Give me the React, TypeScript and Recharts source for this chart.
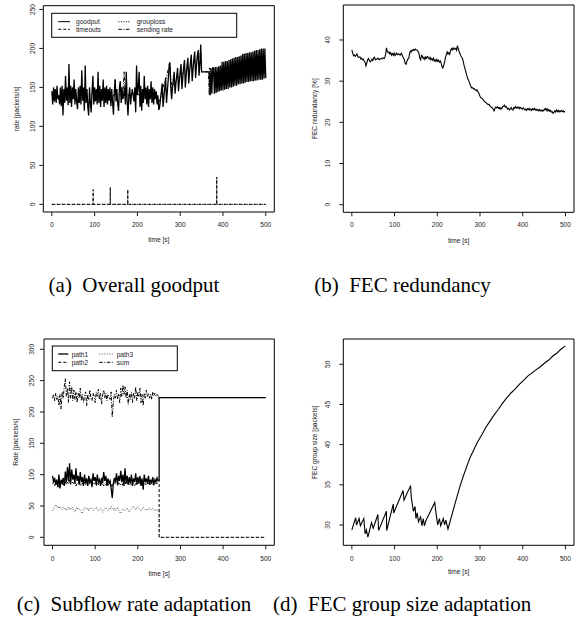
import { Line, LineChart, ReferenceArea, XAxis, YAxis } from 'recharts'

const FONT = '"Liberation Sans", Arial, Helvetica, sans-serif'
const SERIF = '"Liberation Serif", "Times New Roman", serif'
const INK = '#1a1a1a'
const SMALL = 6.6

const TIME_TICKS = [0, 100, 200, 300, 400, 500]
const TIME_DOMAIN: [number, number] = [-20, 520]

// (a) overall goodput, one sample every 2 s
const GOODPUT_STEP = 2
const goodput = [
  145, 128, 150, 132, 148, 130, 152, 135, 140, 128,
  150, 126, 152, 114, 148, 130, 165, 133, 150, 127,
  180, 130, 152, 125, 150, 135, 160, 128, 148, 132,
  122, 150, 130, 152, 128, 172, 133, 150, 120, 178,
  130, 148, 125, 114, 150, 130, 118, 145, 165, 128,
  150, 132, 148, 128, 170, 130, 152, 125, 148, 133,
  160, 125, 150, 130, 152, 128, 148, 133, 150, 126,
  148, 130, 115, 145, 160, 132, 148, 128, 120, 150,
  158, 130, 150, 135, 140, 150, 128, 170, 133, 114,
  140, 150, 128, 140, 148, 140, 132, 150, 118, 178,
  140, 150, 170, 125, 152, 120, 148, 130, 165, 135,
  150, 128, 152, 125, 148, 135, 158, 130, 150, 128,
  148, 135, 145, 128, 140, 121, 125, 135, 145, 155,
  125, 138, 150, 162, 130, 145, 160, 175, 182, 150,
  135, 150, 160, 170, 142, 155, 165, 175, 145, 158,
  170, 180, 148, 162, 175, 185, 150, 165, 178, 188,
  155, 170, 182, 192, 158, 173, 186, 196, 162, 178,
  190, 198, 165, 180, 205, 170, 170, 170, 170, 170,
  170, 170, 170, 170, 170, 140, 175, 142, 175, 175,
  142, 176, 143, 176, 144, 177, 145, 178, 146, 183,
  146, 183, 147, 184, 148, 184, 148, 185, 150, 186,
  150, 187, 151, 188, 152, 189, 152, 189, 154, 190,
  154, 191, 155, 193, 155, 193, 156, 194, 157, 194,
  157, 195, 158, 195, 158, 196, 158, 197, 159, 198,
  159, 198, 160, 199, 160, 200, 160, 200, 161, 200,
  162,
]

const timeouts: [number, number][] = [
  [0, 0], [96.5, 0], [96.5, 19], [96.5, 0], [136.5, 0], [136.5, 22], [136.5, 0],
  [177.5, 0], [177.5, 19], [177.5, 0], [385.5, 0], [385.5, 35], [385.5, 0], [500, 0],
]

const grouploss: [number, number][] = [[0, 0], [500, 0]]

const sendingRate: [number, number][] = [
  [0, 140], [10, 142], [20, 138], [30, 143], [40, 141], [50, 139], [60, 142], [70, 140],
  [80, 138], [90, 141], [100, 143], [110, 140], [120, 139], [130, 141], [140, 138], [146, 140],
  [148, 160], [150, 140], [160, 141], [166, 142], [169, 170], [172, 141], [180, 140], [190, 142],
  [200, 141], [210, 140], [220, 142], [230, 140], [240, 139], [250, 128], [260, 150], [270, 168],
  [275, 182], [280, 150], [290, 160], [300, 165], [320, 175], [340, 185], [348, 195], [350, 170],
  [366, 170], [368, 140], [368.5, 175], [380, 160], [400, 165], [420, 170], [440, 175], [460, 178],
  [480, 180], [500, 182],
]

// (b) FEC redundancy [%]
const redundancy: [number, number][] = [
  [0, 37.6], [2, 36.8], [4, 36.2], [6, 36.4], [8, 36.0], [10, 36.3], [12, 36.6], [14, 36.0],
  [16, 35.8], [19, 35.9], [21, 35.4], [23, 35.6], [25, 35.2], [27, 35.3], [29, 34.8], [31, 34.6],
  [33, 33.7], [35, 34.4], [37, 35.2], [39, 35.5], [41, 35.0], [43, 34.7], [45, 34.9], [47, 35.3],
  [49, 35.0], [51, 35.6], [53, 35.8], [55, 35.2], [58, 35.3], [61, 35.6], [64, 35.2], [67, 35.5],
  [70, 35.4], [73, 35.7], [76, 35.5], [78, 36.0], [80, 37.2], [81, 38.1], [83, 37.2], [85, 36.9],
  [87, 37.1], [89, 36.6], [91, 36.9], [93, 36.3], [95, 36.7], [97, 36.3], [99, 36.8], [101, 36.2],
  [103, 36.5], [105, 36.8], [107, 36.4], [110, 36.6], [113, 36.3], [116, 36.8], [119, 36.0], [121, 35.6],
  [123, 35.2], [125, 34.3], [127, 34.1], [129, 34.8], [131, 35.4], [133, 35.5], [135, 36.6], [137, 37.3],
  [139, 37.1], [141, 37.6], [143, 37.4], [145, 37.7], [147, 37.5], [149, 37.8], [151, 37.6], [153, 37.5],
  [155, 37.2], [157, 36.8], [159, 35.6], [161, 35.2], [163, 36.3], [165, 36.1], [167, 35.5], [169, 35.8],
  [171, 35.3], [173, 35.9], [175, 35.6], [177, 36.0], [179, 35.7], [181, 35.4], [183, 35.8], [185, 35.2],
  [187, 35.5], [189, 35.1], [191, 35.6], [193, 34.9], [195, 35.2], [197, 34.8], [199, 35.3], [201, 34.8],
  [203, 35.1], [205, 34.6], [207, 34.9], [209, 34.4], [211, 33.5], [213, 33.2], [215, 33.8], [217, 34.6],
  [219, 35.8], [221, 36.4], [223, 37.1], [225, 36.6], [227, 36.9], [229, 36.5], [231, 37.4], [233, 37.9],
  [235, 37.6], [237, 38.1], [239, 37.7], [241, 37.9], [243, 38.0], [245, 37.5], [247, 38.6], [249, 37.9],
  [251, 37.2], [253, 36.7], [255, 36.2], [257, 35.8], [259, 35.5], [261, 34.6], [263, 33.7], [265, 33.0],
  [267, 32.2], [269, 31.4], [271, 30.7], [273, 30.3], [275, 29.7], [277, 29.1], [279, 28.6], [281, 28.3],
  [283, 28.4], [285, 28.1], [287, 28.2], [289, 27.9], [291, 27.7], [293, 27.9], [295, 27.4], [297, 27.2],
  [299, 26.6], [301, 26.1], [303, 25.9], [305, 25.8], [307, 25.5], [309, 25.3], [311, 25.0], [313, 24.9],
  [315, 24.7], [317, 24.5], [319, 24.3], [321, 24.4], [323, 24.0], [325, 23.8], [327, 23.6], [329, 23.5],
  [331, 23.2], [333, 22.8], [335, 23.4], [337, 23.7], [339, 23.5], [341, 23.8], [343, 23.4], [345, 23.6],
  [347, 23.2], [349, 23.5], [351, 23.3], [353, 23.8], [355, 23.9], [357, 24.2], [359, 23.7], [361, 23.9],
  [363, 23.5], [365, 23.2], [367, 23.4], [369, 23.0], [371, 23.3], [373, 23.6], [375, 23.1], [377, 23.0],
  [379, 23.6], [381, 23.4], [383, 23.8], [385, 23.5], [387, 23.7], [389, 23.4], [391, 23.7], [393, 23.3],
  [395, 23.6], [397, 23.4], [399, 23.2], [401, 23.5], [403, 23.3], [405, 23.0], [407, 23.2], [409, 22.9],
  [411, 23.3], [413, 23.1], [415, 23.4], [417, 23.0], [419, 23.2], [421, 22.9], [423, 23.3], [425, 23.1],
  [427, 23.4], [429, 23.0], [431, 23.2], [433, 22.9], [435, 23.1], [437, 22.8], [439, 23.1], [441, 22.8],
  [443, 23.0], [445, 22.7], [447, 23.0], [449, 22.8], [451, 23.2], [453, 23.4], [455, 22.9], [457, 23.3],
  [459, 22.8], [461, 23.1], [463, 22.7], [465, 22.9], [467, 22.5], [469, 22.6], [471, 22.2], [473, 22.4],
  [475, 22.8], [477, 22.5], [479, 23.0], [481, 22.6], [483, 22.9], [485, 22.5], [487, 22.8], [489, 22.6],
  [491, 22.9], [493, 22.6], [495, 22.8], [497, 22.5], [499, 22.7],
]

// (c) subflow rates, one sample every 2.5 s up to 247.5 s, then the tail
const PATH_STEP = 2.5
const path1 = [
  98, 88, 95, 84, 92, 80, 100, 78, 92, 86,
  95, 82, 105, 88, 112, 90, 118, 85, 108, 92,
  100, 86, 110, 90, 98, 84, 104, 88, 96, 82,
  100, 86, 94, 82, 98, 88, 92, 80, 102, 90,
  96, 84, 100, 88, 92, 82, 95, 86, 104, 90,
  98, 82, 94, 86, 90, 78, 63, 85, 95, 88,
  102, 84, 98, 90, 106, 88, 100, 82, 110, 86,
  98, 84, 96, 86, 100, 82, 94, 88, 102, 84,
  96, 86, 98, 82, 94, 76, 100, 88, 94, 86,
  98, 84, 92, 86, 96, 84, 92, 88, 95, 90,
]
const path2 = [
  85, 88, 82, 90, 84, 86, 80, 88, 84, 87,
  82, 86, 90, 84, 88, 85, 92, 84, 86, 88,
  84, 88, 82, 86, 85, 90, 84, 82, 87, 85,
  88, 84, 86, 82, 85, 88, 84, 86, 83, 87,
  85, 82, 88, 84, 86, 83, 87, 85, 82, 86,
  84, 87, 83, 86, 85, 84, 80, 86, 84, 88,
  86, 83, 88, 85, 84, 87, 83, 86, 88, 84,
  85, 88, 84, 86, 83, 87, 85, 82, 86, 84,
  87, 84, 86, 83, 88, 85, 84, 86, 83, 87,
  85, 86, 84, 88, 85, 83, 86, 85, 87, 86,
]
const path3 = [
  42, 45, 50, 52, 48, 50, 46, 49, 47, 44,
  48, 45, 47, 43, 46, 49, 44, 47, 45, 48,
  42, 40, 45, 48, 44, 46, 43, 40, 38, 45,
  48, 46, 44, 47, 42, 45, 48, 46, 43, 44,
  46, 48, 44, 42, 45, 47, 44, 40, 43, 46,
  48, 45, 43, 46, 44, 50, 46, 44, 47, 42,
  45, 48, 44, 40, 38, 43, 46, 44, 42, 45,
  47, 44, 40, 43, 45, 48, 50, 46, 44, 47,
  49, 46, 44, 42, 45, 48, 46, 44, 43, 46,
  44, 47, 45, 43, 46, 44, 42, 45, 43, 45,
]
const pathSum = [
  222, 228, 218, 230, 220, 225, 210, 228, 205, 232,
  222, 240, 253, 225, 238, 215, 248, 222, 240, 218,
  235, 220, 232, 215, 230, 222, 238, 218, 228, 215,
  225, 232, 210, 228, 220, 235, 222, 218, 230, 225,
  215, 232, 225, 236, 220, 230, 212, 228, 235, 222,
  230, 218, 228, 225, 220, 232, 192, 215, 228, 222,
  235, 220, 228, 215, 238, 225, 243, 228, 240, 222,
  235, 212, 228, 220, 232, 215, 230, 222, 240, 218,
  232, 225, 238, 215, 228, 210, 230, 222, 235, 225,
  230, 222, 228, 220, 232, 226, 230, 225, 228, 226,
]
const path1Tail: [number, number][] = [[250, 90], [250, 223], [500, 223]]
const path2Tail: [number, number][] = [[250, 86], [250, 0], [500, 0]]
const path3Tail: [number, number][] = [[250, 44], [250, 0], [500, 0]]
const sumTail: [number, number][] = [[250, 223], [500, 223]]

// (d) FEC group size [packets]
const groupSize: [number, number][] = [
  [0, 29.4], [9, 30.9], [11, 30.0], [17, 30.8], [20, 29.9], [28, 30.8], [31, 28.9], [34, 29.4],
  [37.5, 28.5], [46, 30.3], [50, 29.6], [61, 31.3], [62.5, 29.3], [81, 31.7], [81.5, 29.3], [97, 32.6],
  [98, 31.5], [120, 34.3], [122, 33.1], [137.5, 34.9], [139, 33.5], [144, 31.7], [148, 32.3], [150, 30.8],
  [153, 31.5], [156, 30.4], [161, 31.0], [164, 29.9], [167, 30.8], [170, 29.9], [173, 30.5], [194, 32.8],
  [198, 31.1], [201, 30.0], [205, 30.8], [208, 29.9], [214, 30.8], [217, 30.0], [220, 30.6], [225, 29.5],
  [245, 33.3], [253, 34.8], [261, 36.1], [269, 37.3], [276, 38.3], [284, 39.2], [294, 40.3], [304, 41.2],
  [313, 42.1], [323, 42.9], [333, 43.7], [343, 44.4], [352, 45.1], [362, 45.8], [372, 46.4], [382, 46.9],
  [392, 47.5], [402, 48.0], [411, 48.5], [421, 48.9], [431, 49.3], [441, 49.7], [450, 50.1], [460, 50.5],
  [470, 51.0], [480, 51.4], [490, 51.9], [500, 52.3],
]

type Point = { t: number; v: number }
const onGrid = (values: number[], step: number): Point[] => values.map((v, i) => ({ t: i * step, v }))
const fromPairs = (pairs: [number, number][]): Point[] => pairs.map(([t, v]) => ({ t, v }))

type Series = { key: string; data: Point[]; color?: string; width?: number; dash?: string }

const DASH = '3 2'
const DOT = '1 1.5'
const DASHDOT = '3.5 1.5 1 1.5'

function XTick({ x, y, payload }: any) {
  return (
    <text x={x} y={y} textAnchor="middle" dominantBaseline="central" fontSize={SMALL} fontFamily={FONT} fill={INK}>
      {payload.value}
    </text>
  )
}

function YTick({ x, y, payload }: any) {
  return (
    <text x={x} y={y} transform={`rotate(-90 ${x} ${y})`} textAnchor="middle" dominantBaseline="central" fontSize={SMALL} fontFamily={FONT} fill={INK}>
      {payload.value}
    </text>
  )
}

type PanelProps = {
  left: number
  top: number
  width: number
  height: number
  box: [number, number, number, number]
  yDomain: [number, number]
  yTicks: number[]
  yTitle: string
  yTickGap: number
  yTitleX: number
  xTickGap: number
  xTitleOffset: number
  series: Series[]
}

function Panel(p: PanelProps) {
  const [bx0, by0, bx1, by1] = p.box
  return (
    <div style={{ position: 'absolute', left: p.left, top: p.top, width: p.width, height: p.height }}>
      <LineChart width={p.width} height={p.height} margin={{ top: by0, right: p.width - bx1, left: 0, bottom: 0 }}>
        <XAxis
          type="number"
          dataKey="t"
          domain={TIME_DOMAIN}
          ticks={TIME_TICKS}
          allowDataOverflow
          axisLine={false}
          tickSize={4}
          tickMargin={p.xTickGap}
          tickLine={{ stroke: INK }}
          height={p.height - by1}
          tick={XTick}
          label={{ value: 'time [s]', position: 'insideBottom', offset: p.xTitleOffset, fill: INK, fontSize: SMALL, fontFamily: FONT }}
        />
        <YAxis
          type="number"
          domain={p.yDomain}
          ticks={p.yTicks}
          allowDataOverflow
          axisLine={false}
          tickSize={4}
          tickMargin={p.yTickGap}
          tickLine={{ stroke: INK }}
          width={bx0}
          tick={YTick}
          label={{ value: p.yTitle, angle: -90, position: 'insideLeft', offset: p.yTitleX, fill: INK, fontSize: SMALL, fontFamily: FONT, style: { textAnchor: 'middle' } }}
        />
        <ReferenceArea x1={TIME_DOMAIN[0]} x2={TIME_DOMAIN[1]} y1={p.yDomain[0]} y2={p.yDomain[1]} fill="none" fillOpacity={0} stroke="#000" strokeWidth={1} ifOverflow="visible" />
        {p.series.map((s) => (
          <Line
            key={s.key}
            data={s.data}
            dataKey="v"
            type="linear"
            stroke={s.color ?? '#000'}
            strokeWidth={s.width ?? 1}
            strokeDasharray={s.dash}
            dot={false}
            activeDot={false}
            isAnimationActive={false}
          />
        ))}
      </LineChart>
    </div>
  )
}

type LegendItem = { label: string; dash?: string; color?: string; width?: number; x0: number; x1: number; tx: number; y: number }

function LegendBox({ rect, items }: { rect: [number, number, number, number]; items: LegendItem[] }) {
  return (
    <g>
      <rect x={rect[0]} y={rect[1]} width={rect[2]} height={rect[3]} fill="#fff" stroke="#000" strokeWidth={1} />
      {items.map((it) => (
        <g key={it.label}>
          <line x1={it.x0} x2={it.x1} y1={it.y} y2={it.y} stroke={it.color ?? '#000'} strokeWidth={it.width ?? 1} strokeDasharray={it.dash} />
          <text x={it.tx} y={it.y} dominantBaseline="central" fontSize={SMALL} fontFamily={FONT} fill={INK}>
            {it.label}
          </text>
        </g>
      ))}
    </g>
  )
}

const captionStyle = (cx: number, top: number): React.CSSProperties => ({
  position: 'absolute',
  left: cx - 160,
  top,
  width: 320,
  textAlign: 'center',
  fontFamily: SERIF,
  fontSize: 21,
  lineHeight: '25px',
  whiteSpace: 'nowrap',
  color: '#000',
})

export default function App() {
  const seriesA: Series[] = [
    { key: 'grouploss', data: fromPairs(grouploss), dash: DOT },
    { key: 'sending', data: fromPairs(sendingRate), dash: DASHDOT },
    { key: 'goodput', data: onGrid(goodput, GOODPUT_STEP), width: 1.3 },
    { key: 'timeouts', data: fromPairs(timeouts), dash: DASH },
  ]
  const seriesB: Series[] = [{ key: 'redundancy', data: fromPairs(redundancy), width: 1.1 }]
  const seriesC: Series[] = [
    { key: 'sum', data: [...onGrid(pathSum, PATH_STEP), ...fromPairs(sumTail)], dash: DASHDOT },
    { key: 'path3', data: [...onGrid(path3, PATH_STEP), ...fromPairs(path3Tail)], dash: DOT, color: '#555' },
    { key: 'path2', data: [...onGrid(path2, PATH_STEP), ...fromPairs(path2Tail)], dash: DASH },
    { key: 'path1', data: [...onGrid(path1, PATH_STEP), ...fromPairs(path1Tail)], width: 1.3 },
  ]
  const seriesD: Series[] = [{ key: 'group', data: fromPairs(groupSize), width: 1.1 }]

  return (
    <div style={{ position: 'absolute', left: 0, top: 0, width: 585, height: 623, overflow: 'hidden', background: '#fff' }}>
      <Panel
        left={0} top={0} width={290} height={250}
        box={[43.3, 5.7, 274.3, 212]}
        yDomain={[-9.8, 254.8]}
        yTicks={[0, 50, 100, 150, 200, 250]}
        yTitle="rate [packets/s]"
        yTickGap={7} yTitleX={16.7} xTickGap={8} xTitleOffset={8.4}
        series={seriesA}
      />
      <Panel
        left={290} top={0} width={295} height={250}
        box={[53.3, 5, 284, 212.3]}
        yDomain={[-1.85, 48.5]}
        yTicks={[0, 10, 20, 30, 40]}
        yTitle="FEC redundancy [%]"
        yTickGap={12} yTitleX={25} xTickGap={7.7} xTitleOffset={7.1}
        series={seriesB}
      />
      <Panel
        left={0} top={320} width={290} height={260}
        box={[44, 19, 274.3, 225.3]}
        yDomain={[-12.7, 316.4]}
        yTicks={[0, 50, 100, 150, 200, 250, 300]}
        yTitle="Rate [packets/s]"
        yTickGap={8.3} yTitleX={16} xTickGap={9} xTitleOffset={4.5}
        series={seriesC}
      />
      <Panel
        left={290} top={320} width={295} height={260}
        box={[53.3, 19, 284, 225.3]}
        yDomain={[27.47, 53.15]}
        yTicks={[30, 35, 40, 45, 50]}
        yTitle="FEC group size [packets]"
        yTickGap={12} yTitleX={25} xTickGap={9} xTitleOffset={6.1}
        series={seriesD}
      />
      <svg width={585} height={623} style={{ position: 'absolute', left: 0, top: 0, pointerEvents: 'none' }}>
        <LegendBox
          rect={[51.7, 13.3, 185, 24]}
          items={[
            { label: 'goodput', x0: 58.3, x1: 70, tx: 76, y: 21.7 },
            { label: 'timeouts', dash: DASH, x0: 58.3, x1: 70, tx: 76, y: 29.3 },
            { label: 'grouploss', dash: DOT, x0: 118.3, x1: 130.7, tx: 136.7, y: 21.7 },
            { label: 'sending rate', dash: DASHDOT, x0: 118.3, x1: 130.7, tx: 136.7, y: 29.3 },
          ]}
        />
        <LegendBox
          rect={[52.3, 346, 125, 24.7]}
          items={[
            { label: 'path1', width: 1.3, x0: 58.3, x1: 68.3, tx: 71.7, y: 354 },
            { label: 'path2', dash: DASH, x0: 58.3, x1: 68.3, tx: 71.7, y: 362.3 },
            { label: 'path3', dash: DOT, color: '#555', x0: 99.3, x1: 112.7, tx: 116.7, y: 354 },
            { label: 'sum', dash: DASHDOT, x0: 99.3, x1: 112.7, tx: 116.7, y: 362.3 },
          ]}
        />
      </svg>
      <div style={captionStyle(134, 272.7)}>(a)&ensp;Overall goodput</div>
      <div style={captionStyle(402.5, 272.7)}>(b)&ensp;FEC redundancy</div>
      <div style={captionStyle(134, 591.7)}>(c)&ensp;Subflow rate adaptation</div>
      <div style={{ ...captionStyle(0, 591.7), left: 273, width: 'auto', textAlign: 'left' }}>
        (d)&ensp;FEC group size adaptation
      </div>
    </div>
  )
}
